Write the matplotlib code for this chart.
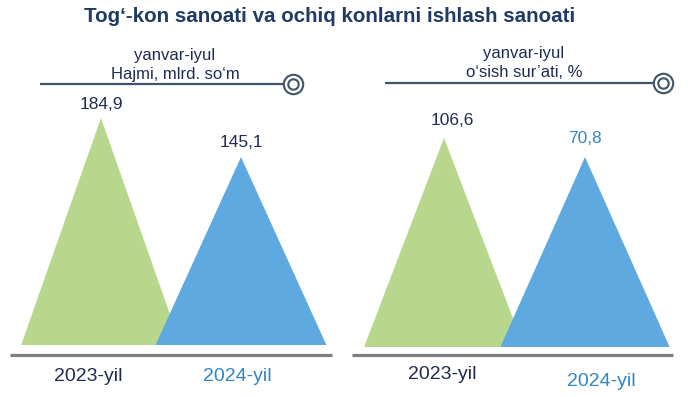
import matplotlib.pyplot as plt

plt.rcParams['font.family'] = ['Liberation Sans', 'DejaVu Sans']

# data
years = ['2023-yil', '2024-yil']
volume = [184.9, 145.1]      # Hajmi, mlrd. so'm
growth = [106.6, 70.8]       # o'sish sur'ati, %
volume_labels = ['184,9', '145,1']
growth_labels = ['106,6', '70,8']

title = 'Tog\u2018-kon sanoati va ochiq konlarni ishlash sanoati'
head_left = 'yanvar-iyul\nHajmi, mlrd. so\u2018m'
head_right = 'yanvar-iyul\no\u2018sish sur\u2019ati, %'

green = '#B7D88C'
blue = '#5DA9E0'
navy = '#1F2B52'
lblue = '#2F86C9'
slate = '#3F546B'

W, H = 695, 397
fig = plt.figure(figsize=(W / 100, H / 100), dpi=100)


def px_axes(x0, y0, x1, y1):
    return fig.add_axes([x0 / W, 1 - y1 / H, (x1 - x0) / W, (y1 - y0) / H])


# decoration layer in pixel coordinates
deco = px_axes(0, 0, W, H)
deco.set_xlim(0, W)
deco.set_ylim(H, 0)
deco.axis('off')

deco.text(330, 17, title, ha='center', va='center', fontsize=14.8,
          fontweight='bold', color='#1F3B64')

for x0, x1, y in [(40, 293, 84), (385, 663, 83)]:
    deco.plot([x0, x1], [y, y], color=slate, lw=1.6, solid_capstyle='butt')
    deco.plot(x1, y, 'o', ms=14, mfc='white', mec=slate, mew=1.5)
    deco.plot(x1, y, 'o', ms=7.5, mfc='white', mec=slate, mew=1.5)
deco.text(175, 65, head_left, ha='center', va='center', fontsize=12,
          color=navy, linespacing=1.3)
deco.text(524, 63, head_right, ha='center', va='center', fontsize=12,
          color=navy, linespacing=1.3)

# grey baselines
deco.plot([10, 332], [355, 355], color='#7F7F7F', lw=2.3, solid_capstyle='butt')
deco.plot([352, 673], [355, 355], color='#7F7F7F', lw=2.3, solid_capstyle='butt')


def panel(box, xlim, ylim, vals, labels, half_w, val_off, year_off, val_colors):
    ax = px_axes(*box)
    ax.set_xlim(*xlim)
    ax.set_ylim(*ylim)
    ax.axis('off')
    floor = ylim[0]
    for i, v in enumerate(vals):
        c = green if i == 0 else blue
        w = half_w[i]
        ax.fill([i - w, i, i + w], [floor, v, floor], color=c, lw=0, zorder=i + 1)
        ax.annotate(labels[i], (i, v), xytext=val_off[i], textcoords='offset points',
                    ha='center', va='bottom', fontsize=12.5, color=val_colors[i])
        ax.annotate(years[i], (i, floor), xytext=year_off[i], textcoords='offset points',
                    ha='center', va='center', fontsize=14,
                    color=navy if i == 0 else lblue)
    return ax


panel((0, 100, 347, 345), (-0.721, 1.757), (-46.7, 203.3), volume, volume_labels,
      [0.57, 0.61], [(0, 4), (0, 5)], [(-9, -23), (-3, -23)], [navy, navy])
panel((348, 100, 695, 347), (-0.681, 1.780), (-287, 178.2), growth, growth_labels,
      [0.567, 0.6], [(6, 7), (0, 8)], [(-1, -20), (12, -25)], [navy, lblue])

fig.savefig('out.png', dpi=100)
